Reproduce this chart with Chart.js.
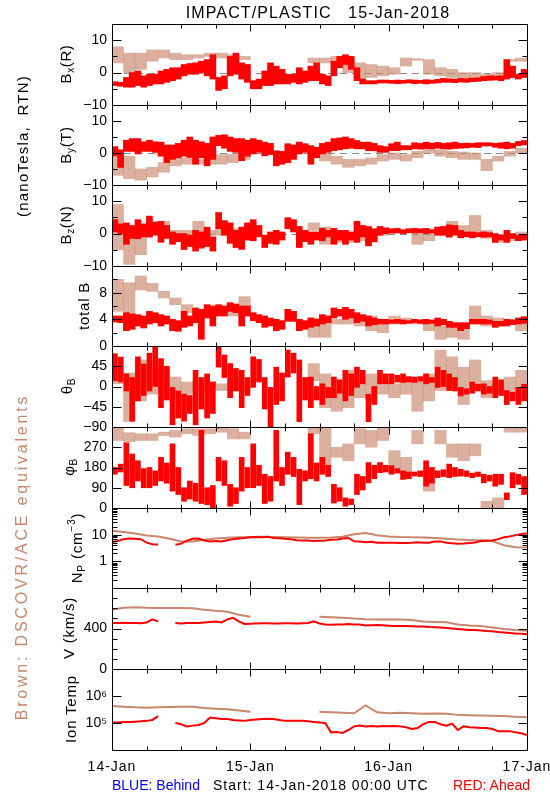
<!DOCTYPE html>
<html>
<head>
<meta charset="utf-8">
<script src="https://cdn.jsdelivr.net/npm/chart.js@4.4.1/dist/chart.umd.min.js"></script>
<style>
body { margin: 0; background: #fff; }
#page { position: relative; width: 550px; height: 800px; overflow: hidden; font-family: 'Liberation Sans', Arial, sans-serif; color: #000; }
#page canvas { position: absolute; left: 0; }
.t { position: absolute; white-space: nowrap; line-height: 1; }
.c { transform: translate(-50%, -50%); }
.rot { transform: translate(-50%, -50%) rotate(-90deg); }
.t sub { font-size: 68%; vertical-align: -0.35em; line-height: 0; }
.t sup { font-size: 68%; vertical-align: 0.6em; line-height: 0; }
</style>
</head>
<body>
<div id="page"></div>
<script>
// time axis (hours since 14-Jan-2018 00:00)
const hourTicks = [0, 6, 12, 18, 24, 30, 36, 42, 48, 54, 60, 66, 72];
const dayHours = [0, 24, 48, 72];
const dayLabels = ['14-Jan', '15-Jan', '16-Jan', '17-Jan'];

// Bx (R): red = hourly low/high, brown = 2-hour low/high
const bxRedLo = [-4.0,-4.2,-4.5,-4.5,-4.0,-4.5,-4.0,-3.5,-3.5,-3.0,
  -2.5,-2.0,-1.0,-0.5,-0.5,0.0,-1.0,-2.0,-5.5,-5.0,
  -1.0,-0.5,-2.0,-3.0,-5.0,-5.0,-4.0,-4.0,-3.5,-3.5,
  -3.5,-3.0,-3.5,-3.0,-2.5,-2.5,-3.5,-4.0,-1.0,1.5,
  2.5,1.0,-2.5,-3.5,-3.5,-3.5,-3.2,-3.2,-3.3,-3.4,
  -3.3,-3.2,-3.4,-3.3,-3.5,-3.3,-3.2,-3.0,-3.0,-3.1,
  -2.9,-3.0,-2.8,-2.7,-2.5,-2.4,-2.3,-2.5,-2.0,-1.5,
  -2.0,-1.5];
const bxRedHi = [-2.8,-3.0,-1.5,0.0,0.5,-1.0,-0.5,-0.5,0.5,1.0,
  1.5,1.5,2.5,2.8,3.0,3.5,4.0,5.5,-1.5,-1.0,
  5.0,6.0,3.0,2.5,-2.5,-2.0,0.5,3.0,2.0,1.0,
  -0.5,-0.5,1.5,0.5,2.0,3.0,-0.5,-1.0,3.5,5.0,
  5.5,5.0,1.5,-2.0,-2.5,-2.5,-2.3,-2.3,-2.4,-2.3,
  -2.4,-2.2,-2.3,-2.4,-2.2,-2.3,-2.1,-1.8,-1.9,-2.0,
  -1.8,-1.9,-1.7,-1.6,-1.2,-1.0,-1.1,-1.0,4.0,2.0,
  -0.5,1.0];
const bxBrownLo = [3,0,1,3.5,4.5,4,4,4.5,5,4.5,4,4,null,null,null,null,null,3,3,2,0,-2,-1.5,-1,-0.5,2,3.8,-0.5,-1,-1.5,-2,-2,-1.5,-1,3.5,3.5];
const bxBrownHi = [8,6,6,7,7,6,5.5,5.5,6,6,5.5,5,null,null,null,null,null,4.5,4.5,5,5,3,2.5,2,1.5,4.5,4.3,4,1.5,1,0,0,-0.5,0,4,4.5];

// By (T)
const byRedLo = [-0.9,-4.5,0.5,0.5,-0.3,0.5,0.5,0.2,-1.0,-3.0,
  -2.0,-1.5,-1.0,-1.4,-3.5,-1.5,-4.0,-2.0,2.3,1.5,
  0.5,0.2,-2.4,-1.0,-0.3,0.2,-0.9,-0.5,-4.0,-3.5,
  -3.0,-2.0,-0.3,0.2,-3.5,-1.5,-0.3,0.2,0.7,1.0,
  1.3,1.5,1.3,1.3,0.7,0.7,0.2,0.2,0.7,0.7,
  1.0,1.0,1.3,1.2,1.4,1.3,1.5,1.3,1.2,1.4,
  1.5,1.6,1.8,1.7,2.2,2.2,1.8,1.5,1.3,1.5,
  2.3,2.5];
const byRedHi = [2.0,1.0,4.0,4.5,4.5,3.5,4.0,3.5,3.4,2.5,
  2.5,3.0,4.0,5.0,4.0,3.5,3.0,5.0,5.5,5.7,
  5.0,4.5,4.5,4.0,4.5,4.0,3.4,3.0,0.7,0.5,
  2.9,2.5,3.4,2.9,2.3,1.8,3.0,3.4,4.5,4.7,
  5.0,4.5,3.9,3.4,3.4,3.0,2.3,2.0,2.9,3.4,
  2.3,2.3,3.2,3.0,3.4,3.1,3.3,3.0,3.2,3.4,
  3.0,3.1,3.0,3.2,3.2,3.2,3.0,3.2,3.4,3.0,
  3.6,3.9];
const byBrownLo = [-7,-8,-8.5,-7.5,-6,-4,-3.5,-3.5,-3.5,-3.5,-3,-2,null,null,null,null,null,-1.4,-2.5,-3.5,-4.5,-4,-3.5,-2.5,-2,-2.5,-1.5,0,-1,-1.5,-2,-2,-5.5,-2.5,-1,0];
const byBrownHi = [-1,-1,-5,-4.5,-3,-1.5,-1.5,-2,-2,-0.5,-0.5,0.5,null,null,null,null,null,0.7,0,-1,-2,-2,-1.5,-0.5,0,-0.5,0.5,1.8,1,0.5,0.3,0,-2,-1,0.5,1.5];

// Bz (N)
const bzRedLo = [0.5,0.0,-3.3,-1.5,-1.6,-1.0,-1.1,-0.5,-2.7,-1.5,
  -3.3,-2.5,-4.9,-4.0,-5.4,-4.5,-4.0,-5.4,1.5,-0.5,
  -3.0,-4.3,-4.9,-2.0,-2.2,-1.0,-4.3,-3.0,-3.3,-2.0,
  1.5,0.5,-4.3,-2.5,-3.3,-2.0,-2.2,-1.0,-3.3,-2.0,
  -3.3,-2.0,-2.7,-1.0,-3.8,-2.5,-0.5,0.0,0.2,0.3,
  0.0,0.3,0.2,0.3,0.0,0.2,-0.5,-0.5,-1.1,-0.5,
  -1.3,-1.0,-1.3,-1.0,-1.1,-1.0,-2.7,-2.0,-2.7,-1.5,
  -2.2,-2.0];
const bzRedHi = [4.3,3.0,3.3,2.5,4.3,3.0,5.4,3.5,3.8,2.5,
  0.5,0.0,0.0,-0.5,1.0,0.5,2.0,-1.0,6.5,4.0,
  3.3,1.0,2.0,3.3,4.3,2.5,-0.5,0.5,1.0,0.5,
  4.9,4.3,2.2,1.0,0.5,0.5,1.6,1.0,1.6,1.0,
  1.0,0.5,3.8,2.5,2.2,1.5,2.2,1.8,1.5,1.6,
  1.2,1.5,1.6,1.5,1.6,1.2,2.0,2.2,2.7,2.5,
  1.0,0.5,0.5,0.3,0.5,0.3,0.0,-0.5,1.0,0.0,
  -0.5,-0.5];
const bzBrownLo = [-5,-9.5,-6.5,0,1.5,-0.5,-0.5,-1,-0.5,-0.5,-0.5,-0.5,null,null,null,null,null,1,-3.3,-2.7,-2.7,-2.2,-2.7,-0.5,0,0.2,-3.3,-2.2,-0.5,0,-0.5,0,-1.5,-2.7,-2.2,-1];
const bzBrownHi = [9,1,2,3.8,3.8,1,1,3.8,1,1.5,1.5,1,null,null,null,null,null,3.3,2,0,-0.5,0,0.5,1,1,1,1,1,2,3.8,2.5,5.6,1,-0.5,0,0.5];

// total B
const btRedLo = [3.6,3.5,2.3,2.5,3.0,2.7,3.3,3.5,3.0,3.3,
  2.3,2.2,2.8,3.0,3.5,1.0,4.2,3.0,4.5,4.5,
  5.2,5.0,3.0,4.5,3.8,3.5,2.8,3.0,2.3,2.5,
  3.7,3.7,2.3,2.5,2.8,3.0,3.3,3.5,4.2,4.5,
  4.0,4.2,3.5,3.7,3.0,3.2,3.3,3.3,3.4,3.4,
  3.3,3.4,3.5,3.4,3.3,3.4,3.0,3.2,2.8,2.8,
  2.3,2.6,3.3,3.3,3.3,3.3,2.8,3.0,3.0,3.2,
  3.3,3.4];
const btRedHi = [4.5,4.5,5.0,4.8,4.7,4.5,5.2,5.0,4.7,4.5,
  4.0,3.8,5.2,4.5,5.7,5.5,6.2,6.0,6.2,6.0,
  6.5,6.3,6.0,6.0,5.0,4.7,4.5,4.2,4.0,3.8,
  5.5,5.2,4.0,3.8,4.2,4.0,4.7,4.5,5.7,5.5,
  5.8,5.5,5.0,4.7,4.5,4.2,4.0,4.0,3.9,4.0,
  3.9,3.8,4.0,3.9,4.0,3.9,4.2,4.0,3.7,3.5,
  3.5,3.5,4.0,4.0,4.0,3.9,3.7,3.7,4.0,3.9,
  4.2,4.4];
const btBrownLo = [5.2,4.7,8.4,8.2,7.2,6.2,5,4.7,5.5,5.2,4.5,4.5,null,null,null,null,null,1.3,1.3,3.3,3.3,3,2.3,2,3.3,3.5,3.3,2.3,1,1.3,1,3.7,3,3.3,3.3,2.3];
const btBrownHi = [10,9.5,10.5,9.4,8.2,7.2,6.2,5.5,6,6,6,7.4,null,null,null,null,null,4.2,4.2,4,4.2,4,4.5,3.5,4.5,4.2,4,3.7,3,2.8,3.2,6,4.5,4.2,4,4];

// theta B (deg)
const thRedLo = [13,10,-10,-77,-32,-20,-10,0,-47,-30,
  -85,-70,-77,-60,-85,-50,-70,-60,43,20,
  -25,-10,-47,-20,-2,10,-50,-90,-40,-32,
  21,30,-78,-30,-47,-30,-40,-25,-25,-15,
  -32,-20,-2,6,-78,-40,6,6,6,10,
  9,10,9,12,6,9,-2,0,-9,-10,
  -21,-17,-15,-10,-17,-15,-25,-20,-40,-32,
  -40,-32];
const thRedHi = [73,65,28,20,66,50,74,89,62,45,
  -2,-10,-17,-20,36,20,28,10,89,70,
  51,40,36,20,66,60,20,-2,43,30,
  81,74,59,20,21,0,6,-2,21,15,
  36,28,43,36,-17,0,36,28,28,25,
  28,22,21,22,28,20,43,36,28,20,
  -2,-5,10,5,6,0,21,15,-9,-12,
  -2,5];
const thBrownLo = [6,-78,-32,-17,-9,-9,-17,-9,-5,-9,-9,-9,null,null,null,null,null,13,-47,-55,-47,-25,-32,-17,-25,-17,-55,-32,-9,13,-40,-2,-25,-17,-9,-9];
const thBrownHi = [66,30,59,43,43,21,10,13,10,6,13,6,null,null,null,null,null,51,28,-2,36,13,28,13,6,21,13,28,81,66,43,59,13,6,21,36];

// phi B (deg)
const phRedLo = [150,160,100,90,120,90,90,100,120,110,
  75,60,30,40,30,20,15,0,120,100,
  8,20,75,90,90,100,20,30,120,100,
  150,140,15,120,130,120,150,140,22,30,
  8,15,60,80,112,130,157,160,150,155,
  127,130,142,140,97,110,135,140,135,140,
  142,140,135,140,112,120,97,105,37,90,
  105,60];
const phRedHi = [180,195,290,240,210,175,180,165,225,200,
  285,180,90,120,110,345,90,100,225,210,
  105,90,225,180,285,190,150,140,345,180,
  248,225,172,165,330,200,225,190,105,90,
  45,40,150,140,202,190,202,190,188,175,
  165,160,160,165,210,180,165,170,195,180,
  172,165,155,160,150,145,150,150,67,157,
  150,140];
const phBrownLo = [300,295,300,300,322,315,330,322,330,337,307,307,null,null,null,null,null,330,180,225,210,285,270,300,165,150,285,75,285,225,210,232,0,0,337,337];
const phBrownHi = [360,335,330,330,337,345,352,352,352,360,352,337,null,null,null,null,null,360,360,270,285,352,345,360,255,225,345,180,345,285,285,285,30,45,360,360];

// Np (cm^-3): red hourly, brown every 2 hours
const npRed = [5.3,5.8,6.8,7.2,7.0,6.8,5.0,4.4,4.3,null,
  null,4.2,4.6,6.0,7.0,7.2,6.0,5.6,5.8,5.5,
  6.2,6.8,7.2,7.5,8.0,8.2,8.0,8.3,7.5,7.3,
  7.0,6.8,6.2,6.0,6.0,5.8,5.9,6.0,6.5,6.6,
  7.2,7.5,5.6,5.5,5.2,5.4,5.0,5.0,5.0,5.0,
  4.9,4.9,5.0,5.2,5.0,5.0,5.5,5.6,5.0,4.8,
  4.6,4.7,4.9,5.1,5.8,5.9,6.0,6.8,8.0,8.5,
  9.6,10.5,11.0];
const npBrown = [14,12.5,11,9.4,8.5,7.0,5.5,5.5,6.5,7.2,7.7,8.0,8.2,8.4,8.2,8.0,7.8,7.7,7.6,7.8,8.4,10.3,11.5,9.5,8.5,8.1,8.0,7.9,7.5,7.0,6.6,6.3,6.2,5.8,4.0,3.4,3.3];

// V (km/s)
const vRed = [455,455,458,455,455,452,460,490,470,null,
  null,455,450,455,455,455,460,465,470,460,
  490,505,470,445,448,450,452,452,450,450,
  452,452,450,452,455,470,450,440,438,440,
  440,445,440,440,430,432,435,432,428,425,
  425,425,422,420,420,415,412,410,405,400,
  395,390,385,385,380,375,372,365,360,355,
  350,348,345];
const vBrown = [585,605,610,605,603,603,603,600,585,575,565,535,515,null,null,null,null,null,515,512,505,498,492,490,490,488,485,470,465,462,440,430,425,410,395,385,378];

// Ion temperature (K)
const tRed = [1.05e5,1.05e5,1.1e5,1.1e5,1.12e5,1.15e5,1.2e5,1.3e5,1.8e5,null,
  null,1.0e5,9.0e4,7.5e4,8.0e4,8.5e4,1.0e5,1.6e5,1.5e5,1.4e5,
  1.4e5,1.3e5,1.25e5,1.2e5,1.3e5,1.35e5,1.4e5,1.45e5,1.4e5,1.3e5,
  1.2e5,1.2e5,1.2e5,1.2e5,1.15e5,1.1e5,1.05e5,1.0e5,4.5e4,4.6e4,
  4.3e4,5.5e4,7.5e4,8.0e4,7.5e4,7.8e4,7.5e4,7.8e4,7.6e4,7.7e4,
  7.5e4,7.0e4,6.0e4,6.5e4,9.0e4,1.1e5,1.1e5,9.0e4,8.0e4,9.5e4,
  5.5e4,7.5e4,7.0e4,6.8e4,6.5e4,6.5e4,6.0e4,5.0e4,5.0e4,5.0e4,
  4.5e4,4.2e4,3.6e4];
const tBrown = [4.3e5,4.0e5,3.8e5,3.7e5,3.8e5,3.9e5,4.0e5,4.0e5,3.6e5,3.4e5,3.2e5,2.9e5,2.6e5,null,null,null,null,null,2.6e5,2.5e5,2.4e5,2.3e5,4.5e5,2.5e5,2.3e5,2.4e5,2.3e5,2.2e5,2.25e5,2.2e5,2.0e5,1.95e5,1.9e5,1.85e5,1.8e5,1.7e5,1.65e5];

// axis ticks
const bTicks = [-10, 0, 10], bMinor = [-5, 5];
const btTicks = [0, 4, 8], btMinor = [2, 6, 10];
const thTicks = [-90, -45, 0, 45];
const phTicks = [0, 90, 180, 270];
const npTicks = [1, 10], npTickLabels = ['1', '10'];
const npMinor = [0.2,0.3,0.4,0.5,0.6,0.7,0.8,0.9,2,3,4,5,6,7,8,9,20,30,40,50,60,70,80,90];
const vTicks = [0, 400], vMinor = [100, 200, 300, 500, 600, 700];
const tTicks = [1e5, 1e6], tTickLabels = ['10\u2075', '10\u2076'];

const RED = '#ff0000';
const BROWN = 'rgb(200,134,108)';
const BROWN_A = 'rgba(200,134,108,0.65)';
const FONT = "'Liberation Sans', Arial, sans-serif";

// panel frame rows (page y)
const panelTops = [24, 105, 185, 266, 346, 427, 508, 588, 669, 750];
const PAD = 14;

function fmt(v) {
    return v < 0 ? '\u2212' + Math.abs(v) : String(v);
}

// low/high per time bin -> floating bar
function bins(lo, hi, step) {
    const out = [];
    lo.forEach((v, i) => {
        if (v !== null) out.push({ x: i * step + step / 2, y: [v, hi[i]] });
    });
    return out;
}

function series(vals, step) {
    return vals.map((v, i) => ({ x: i * step, y: v }));
}

// IDL-style frame: box, inward ticks, dashed zero line
const idlFrame = {
    id: 'idlFrame',
    beforeDatasetsDraw(chart, args, o) {
        if (!o.zero) return;
        const { ctx, chartArea: a, scales: { y } } = chart;
        const py = Math.round(y.getPixelForValue(0)) + 0.5;
        ctx.save();
        ctx.strokeStyle = '#8c8c8c';
        ctx.lineWidth = 1;
        ctx.setLineDash([7, 5]);
        ctx.beginPath();
        ctx.moveTo(a.left, py);
        ctx.lineTo(a.right, py);
        ctx.stroke();
        ctx.restore();
    },
    afterDraw(chart, args, o) {
        const { ctx, chartArea: a, scales: { x, y } } = chart;
        const L = a.left + 0.5, R = a.right + 0.5, T = a.top + 0.5, B = a.bottom + 0.5;
        ctx.save();
        ctx.strokeStyle = '#000';
        ctx.lineWidth = 1;
        ctx.beginPath();
        ctx.rect(L, T, R - L, B - T);
        hourTicks.forEach(h => {
            const px = Math.round(x.getPixelForValue(h)) + 0.5;
            const len = h % 24 === 0 ? 7 : 4;
            ctx.moveTo(px, T); ctx.lineTo(px, T + len);
            ctx.moveTo(px, B); ctx.lineTo(px, B - len);
        });
        const yt = (v, len) => {
            const py = Math.round(y.getPixelForValue(v)) + 0.5;
            ctx.moveTo(L, py); ctx.lineTo(L + len, py);
            ctx.moveTo(R, py); ctx.lineTo(R - len, py);
        };
        (o.major || []).forEach(v => yt(v, 9));
        (o.minor || []).forEach(v => yt(v, 5));
        ctx.stroke();
        if (o.days) {
            ctx.fillStyle = '#000';
            ctx.font = '14px ' + FONT;
            ctx.textAlign = 'center';
            ctx.textBaseline = 'middle';
            ctx.letterSpacing = '1px';
            dayHours.forEach((h, i) => {
                ctx.fillText(dayLabels[i], x.getPixelForValue(h), a.bottom + 17);
            });
        }
        ctx.restore();
    }
};

const panels = [
    { band: [bxRedLo, bxRedHi, bxBrownLo, bxBrownHi], w: [6, 11.5], min: -10, max: 15, ticks: bTicks, minor: bMinor, zero: true },
    { band: [byRedLo, byRedHi, byBrownLo, byBrownHi], w: [6, 11.5], min: -10, max: 15, ticks: bTicks, minor: bMinor, zero: true },
    { band: [bzRedLo, bzRedHi, bzBrownLo, bzBrownHi], w: [6, 11.5], min: -10, max: 15, ticks: bTicks, minor: bMinor, zero: true },
    { band: [btRedLo, btRedHi, btBrownLo, btBrownHi], w: [6, 11.5], min: 0, max: 12, ticks: btTicks, minor: btMinor },
    { band: [thRedLo, thRedHi, thBrownLo, thBrownHi], w: [5, 11.5], min: -90, max: 90, ticks: thTicks, minor: [] },
    { band: [phRedLo, phRedHi, phBrownLo, phBrownHi], w: [5, 11.5], min: 0, max: 360, ticks: phTicks, minor: [] },
    { line: [npRed, npBrown], log: true, min: 0.1, max: 100, ticks: npTicks, labels: npTickLabels, minor: npMinor },
    { line: [vRed, vBrown], min: 0, max: 800, ticks: vTicks, minor: vMinor },
    { line: [tRed, tBrown], log: true, min: 1e4, max: 1e7, ticks: tTicks, labels: tTickLabels, minor: [] }
];

const page = document.getElementById('page');

panels.forEach((p, i) => {
    const top = panelTops[i];
    const h = panelTops[i + 1] - top;
    const padBottom = i === panels.length - 1 ? 800 - panelTops[i + 1] : PAD;
    const canvas = document.createElement('canvas');
    canvas.width = 550;
    canvas.height = h + PAD + padBottom;
    canvas.style.top = (top - PAD) + 'px';
    page.appendChild(canvas);

    let datasets;
    if (p.band) {
        datasets = [
            { type: 'bar', data: bins(p.band[0], p.band[1], 1), backgroundColor: RED, borderWidth: 0, barThickness: p.w[0], minBarLength: 2, grouped: false, order: 0 },
            { type: 'bar', data: bins(p.band[2], p.band[3], 2), backgroundColor: BROWN_A, borderWidth: 0, barThickness: p.w[1], grouped: false, order: 1 }
        ];
    } else {
        datasets = [
            { data: series(p.line[0], 1), borderColor: RED, borderWidth: 2, pointRadius: 0, spanGaps: false, order: 0 },
            { data: series(p.line[1], 2), borderColor: BROWN, borderWidth: 2, pointRadius: 0, spanGaps: false, order: 1 }
        ];
    }

    new Chart(canvas, {
        type: 'line',
        data: { datasets: datasets },
        options: {
            responsive: false,
            animation: false,
            devicePixelRatio: 1,
            layout: { padding: { top: PAD, bottom: padBottom, left: 0, right: 23 } },
            plugins: {
                legend: { display: false },
                tooltip: { enabled: false },
                idlFrame: { major: p.ticks, minor: p.minor, zero: !!p.zero, days: i === panels.length - 1 }
            },
            scales: {
                x: { type: 'linear', min: 0, max: 72, display: false, offset: false },
                y: {
                    type: p.log ? 'logarithmic' : 'linear',
                    position: 'left',
                    min: p.min,
                    max: p.max,
                    grid: { display: false, drawTicks: false },
                    border: { display: false },
                    ticks: {
                        color: '#000',
                        font: { family: FONT, size: 14 },
                        padding: 5,
                        autoSkip: false,
                        callback: function(value) {
                            if (p.labels) return p.labels[p.ticks.indexOf(value)];
                            return fmt(value);
                        }
                    },
                    afterBuildTicks: function(scale) {
                        scale.ticks = p.ticks.map(v => ({ value: v }));
                    },
                    afterFit: function(scale) {
                        scale.width = 112;
                        scale.paddingTop = 0;
                        scale.paddingBottom = 0;
                    }
                }
            }
        },
        plugins: [idlFrame]
    });
});

// text around the panels
const texts = [
    { html: 'IMPACT/PLASTIC&nbsp;&nbsp;&nbsp;15-Jan-2018', x: 318, y: 13, size: 16, ls: 1.1, cls: 'c' },
    { html: '(nanoTesla,&nbsp; RTN)', x: 22, y: 146, size: 15, ls: 1.2, cls: 'rot' },
    { html: 'Brown: DSCOVR/ACE equivalents', x: 22, y: 557, size: 16, ls: 2.8, cls: 'rot', color: BROWN },
    { html: 'B<sub>x</sub>(R)', x: 65, y: 64, size: 15, ls: 0.6, cls: 'rot' },
    { html: 'B<sub>y</sub>(T)', x: 65, y: 145, size: 15, ls: 0.6, cls: 'rot' },
    { html: 'B<sub>z</sub>(N)', x: 65, y: 225, size: 15, ls: 0.6, cls: 'rot' },
    { html: 'total B', x: 83, y: 306, size: 15, ls: 0.8, cls: 'rot' },
    { html: '\u03b8<sub>B</sub>', x: 66, y: 386, size: 15, ls: 0.6, cls: 'rot' },
    { html: '\u03c6<sub>B</sub>', x: 68, y: 467, size: 15, ls: 0.6, cls: 'rot' },
    { html: 'N<sub>P</sub> (cm<sup>\u22123</sup>)', x: 76, y: 548, size: 15, ls: 0.8, cls: 'rot' },
    { html: 'V (km/s)', x: 68, y: 628, size: 15, ls: 0.8, cls: 'rot' },
    { html: 'Ion Temp', x: 70, y: 709, size: 15, ls: 0.8, cls: 'rot' },
    { html: 'BLUE: Behind', x: 112, y: 785, size: 14, ls: 0, cls: 'l', color: '#0000ff' },
    { html: 'Start: 14-Jan-2018 00:00 UTC', x: 213, y: 785, size: 14, ls: 1, cls: 'l' },
    { html: 'RED: Ahead', x: 453, y: 785, size: 14, ls: 0, cls: 'l', color: RED }
];

texts.forEach(t => {
    const d = document.createElement('div');
    d.className = 't ' + t.cls;
    d.innerHTML = t.html;
    d.style.left = t.x + 'px';
    d.style.top = t.y + 'px';
    d.style.fontSize = t.size + 'px';
    d.style.letterSpacing = t.ls + 'px';
    if (t.color) d.style.color = t.color;
    if (t.cls === 'l') d.style.transform = 'translateY(-50%)';
    page.appendChild(d);
});
</script>
</body>
</html>
